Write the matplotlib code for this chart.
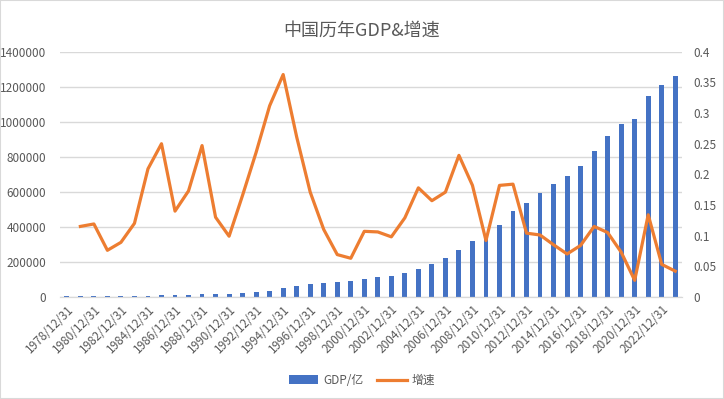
import numpy as np
import matplotlib
matplotlib.use("Agg")
import matplotlib.pyplot as plt
from matplotlib.patches import Rectangle

plt.rcParams['font.family'] = ['Noto Sans CJK SC', 'DejaVu Sans']

years = list(range(1978, 2024))
dates = ["{}/12/31".format(y) for y in years]

gdp = [3679, 4101, 4588, 4936, 5373, 6021, 7279, 9099, 10376, 12175,
       15180, 17180, 18873, 22006, 27195, 35673, 48638, 61340, 71814, 79715,
       85196, 90564, 100280, 110863, 121717, 137422, 161840, 187319, 219439, 270092,
       319245, 348518, 412119, 487940, 538580, 592963, 643563, 688858, 746395, 832036,
       919281, 986515, 1013567, 1149237, 1210207, 1260582]

# growth starts at 1979
growth = [0.115, 0.119, 0.076, 0.089, 0.120, 0.209, 0.250, 0.140, 0.173,
          0.247, 0.130, 0.099, 0.166, 0.236, 0.312, 0.363, 0.261, 0.171, 0.110,
          0.069, 0.063, 0.107, 0.106, 0.098, 0.129, 0.178, 0.157, 0.171, 0.231,
          0.182, 0.092, 0.182, 0.184, 0.104, 0.101, 0.085, 0.070, 0.084, 0.115,
          0.105, 0.073, 0.027, 0.134, 0.053, 0.042]

blue = '#4472C4'
orange = '#ED7D31'
gray = '#595959'
grid = '#D9D9D9'

fig = plt.figure(figsize=(7.24, 3.99), dpi=100)
ax = fig.add_axes([0.083, 0.256, 0.859, 0.614])
ax2 = ax.twinx()

x = np.arange(len(years))
bars = ax.bar(x, gdp, width=0.36, color=blue, label='GDP/亿', zorder=2)
line, = ax2.plot(x[1:], growth, color=orange, linewidth=2.3, label='增速',
                 solid_joinstyle='round', zorder=3)

ax.set_xlim(-0.5, len(years) - 0.5)
ax.set_ylim(0, 1400000)
ax.set_yticks(np.arange(0, 1400001, 200000))
ax.set_yticklabels([str(v) for v in range(0, 1400001, 200000)])
ax2.set_ylim(0, 0.4)
ax2.set_yticks([0, 0.05, 0.1, 0.15, 0.2, 0.25, 0.3, 0.35, 0.4])
ax2.set_yticklabels(['0', '0.05', '0.1', '0.15', '0.2', '0.25', '0.3', '0.35', '0.4'])

ax.yaxis.grid(True, color=grid, linewidth=1)
ax.set_axisbelow(True)
ax.set_xticks(x[::2])
ax.set_xticklabels(dates[::2], rotation=45, ha='right', rotation_mode='anchor')

for a in (ax, ax2):
    for s in ('top', 'left', 'right'):
        a.spines[s].set_visible(False)
    a.spines['bottom'].set_color(grid)
    a.tick_params(length=0, colors=gray, labelsize=8.5)
ax.tick_params(axis='x', pad=4)
ax.tick_params(axis='y', pad=10)
ax2.tick_params(axis='y', pad=8)
ax2.set_zorder(ax.get_zorder() + 1)
ax2.patch.set_visible(False)

fig.suptitle('中国历年GDP&增速', x=0.5, y=0.945, fontsize=13, color=gray)

fig.legend([bars, line], ['GDP/亿', '增速'], loc='center', bbox_to_anchor=(0.5, 0.047),
           ncol=2, frameon=False, fontsize=8.5, labelcolor=gray, handlelength=2.5,
           handletextpad=0.4, columnspacing=1.2)

fig.patches.append(Rectangle((0, 0), 1, 1, transform=fig.transFigure, fill=False,
                             edgecolor=grid, linewidth=1.5))

fig.savefig('out.png', dpi=100)
